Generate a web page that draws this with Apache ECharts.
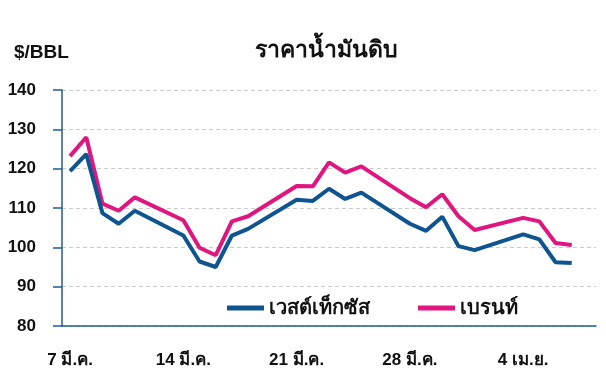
<!DOCTYPE html>
<html>
<head>
<meta charset="utf-8">
<script src="https://cdn.jsdelivr.net/npm/echarts@6/dist/echarts.min.js"></script>
<style>
html,body{margin:0;padding:0;background:#fff;}
#c{width:606px;height:381px;}
</style>
</head>
<body>
<div id="c"></div>
<script>
var days = ['7 มี.ค.','8 มี.ค.','9 มี.ค.','10 มี.ค.','11 มี.ค.','12 มี.ค.','13 มี.ค.',
  '14 มี.ค.','15 มี.ค.','16 มี.ค.','17 มี.ค.','18 มี.ค.','19 มี.ค.','20 มี.ค.',
  '21 มี.ค.','22 มี.ค.','23 มี.ค.','24 มี.ค.','25 มี.ค.','26 มี.ค.','27 มี.ค.',
  '28 มี.ค.','29 มี.ค.','30 มี.ค.','31 มี.ค.','1 เม.ย.','2 เม.ย.','3 เม.ย.',
  '4 เม.ย.','5 เม.ย.','6 เม.ย.','7 เม.ย.','8 เม.ย.'];
var wti = [119.4,123.7,108.7,106.0,109.3,null,null,
  103.0,96.4,95.0,103.0,104.7,null,null,
  112.1,111.8,114.9,112.3,113.9,null,null,
  106.0,104.2,107.8,100.3,99.3,null,null,
  103.3,102.0,96.2,96.0,null];
var brent = [123.2,128.0,111.1,109.3,112.7,null,null,
  106.9,99.9,98.0,106.6,107.9,null,null,
  115.6,115.5,121.6,119.0,120.6,null,null,
  112.5,110.2,113.5,107.9,104.4,null,null,
  107.5,106.6,101.1,100.6,null];
var yTicks = [80,90,100,110,120,130,140];
var seriesNames = ['เวสต์เท็กซัส','เบรนท์'];
var title = 'ราคาน้ำมันดิบ';
var unit = '$/BBL';

var font = 'Liberation Sans, Arial, sans-serif';
var axisColor = '#1f5c99';
var chart = echarts.init(document.getElementById('c'), null, {renderer:'canvas'});
chart.setOption({
  animation:false,
  backgroundColor:'#fff',
  title:[
    {text:title, left:321, top:34, textAlign:'center',
     textStyle:{fontFamily:font, fontSize:23, fontWeight:'bold', color:'#111'}},
    {text:unit, left:9, top:38,
     textStyle:{fontFamily:font, fontSize:19, fontWeight:'bold', color:'#111'}}
  ],
  grid:{left:62, right:10, top:90, bottom:55},
  legend:{
    left:222, top:293, itemWidth:37, itemHeight:5, itemGap:48, icon:'rect',
    textStyle:{fontFamily:font, fontSize:20, fontWeight:'bold', color:'#111'},
    data:seriesNames
  },
  xAxis:{
    type:'category', data:days, boundaryGap:true,
    axisLine:{lineStyle:{color:axisColor, width:1.5}},
    axisTick:{interval:6, length:8, lineStyle:{color:axisColor, width:1.5}},
    axisLabel:{interval:6, margin:26, fontFamily:font, fontSize:17, fontWeight:'bold', color:'#111'},
    splitLine:{show:false}
  },
  yAxis:{
    type:'value', min:yTicks[0], max:yTicks[yTicks.length-1], interval:10,
    axisLine:{show:true, lineStyle:{color:axisColor, width:1.5}},
    axisTick:{show:true, length:9, lineStyle:{color:axisColor, width:1.5}},
    axisLabel:{margin:26, fontFamily:font, fontSize:17, fontWeight:'bold', color:'#111'},
    splitLine:{show:true, lineStyle:{color:'#cccccc', type:[4,3], width:1}}
  },
  series:[
    {name:seriesNames[0], type:'line', data:wti, connectNulls:true, showSymbol:false, symbol:'none',
     lineStyle:{color:'#0d5491', width:4}, itemStyle:{color:'#0d5491'}, z:3},
    {name:seriesNames[1], type:'line', data:brent, connectNulls:true, showSymbol:false, symbol:'none',
     lineStyle:{color:'#e0157f', width:4}, itemStyle:{color:'#e0157f'}, z:2}
  ]
});
</script>
</body>
</html>
